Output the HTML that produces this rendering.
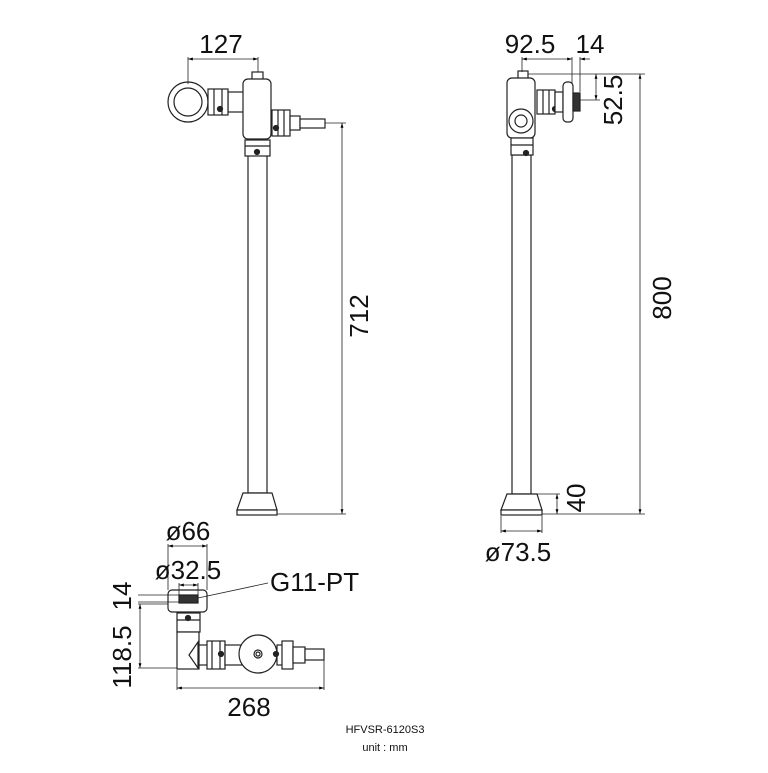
<!DOCTYPE html>
<html><head><meta charset="utf-8"><style>html,body{margin:0;padding:0;background:#fff}</style></head>
<body>
<svg width="768" height="768" viewBox="0 0 768 768" xmlns="http://www.w3.org/2000/svg" font-family="Liberation Sans, DejaVu Sans, sans-serif">
<defs>
<marker id="a" viewBox="0 0 10 10" refX="10" refY="5" markerWidth="6" markerHeight="6" orient="auto-start-reverse"><path d="M0,2 L10,5 L0,8 z" fill="#000"/></marker>
</defs>
<g fill="#fff" stroke="#222" stroke-width="1.2">
<rect x="248" y="155" width="19" height="338"/>
<path d="M243,493 L272,493 L277,510 L237,510 Z"/>
<rect x="237" y="510" width="40" height="5"/>
<circle cx="188" cy="102" r="20"/><circle cx="188" cy="102" r="14"/>
<rect x="228" y="92" width="18" height="20"/>
<rect x="208" y="89" width="20" height="26"/>
<line x1="214" y1="89" x2="214" y2="115"/><line x1="222" y1="89" x2="222" y2="115"/>
<circle cx="220" cy="109" r="2.5" fill="#222"/>
<rect x="252" y="72" width="11" height="9"/>
<rect x="243" y="79" width="28" height="60" rx="5"/>
<rect x="272" y="110" width="18" height="26"/>
<line x1="278" y1="110" x2="278" y2="136"/><line x1="284" y1="110" x2="284" y2="136"/>
<circle cx="276" cy="128" r="2.5" fill="#222"/>
<rect x="290" y="116" width="10" height="14"/>
<rect x="300" y="119" width="25" height="9"/>
<rect x="245" y="140" width="25" height="16"/>
<line x1="245" y1="146" x2="270" y2="146"/>
<circle cx="257" cy="152" r="2.5" fill="#222"/>
<rect x="512" y="155" width="19" height="339"/>
<path d="M507,494 L537,494 L542,510 L501,510 Z"/>
<rect x="501" y="510" width="41" height="5"/>
<rect x="518" y="71" width="10" height="8"/>
<rect x="507" y="78" width="28" height="60" rx="5"/>
<circle cx="521" cy="121" r="12"/><circle cx="521" cy="121" r="6"/>
<rect x="537" y="90" width="18" height="24"/>
<line x1="543" y1="90" x2="543" y2="114"/><line x1="549" y1="90" x2="549" y2="114"/>
<circle cx="555" cy="109" r="2.5" fill="#222"/>
<rect x="555" y="92" width="8" height="20"/>
<rect x="563" y="82" width="10" height="40" rx="4"/>
<rect x="573" y="93" width="7" height="18" fill="#333"/>
<rect x="511" y="138" width="22" height="17"/>
<line x1="511" y1="145" x2="533" y2="145"/>
<circle cx="526" cy="153" r="2.5" fill="#222"/>
<rect x="168" y="590" width="39" height="22" rx="4"/>
<rect x="179" y="595" width="19" height="8" fill="#333"/>
<rect x="177" y="613" width="23" height="19"/>
<line x1="177" y1="620" x2="200" y2="620"/>
<circle cx="188" cy="618" r="2.5" fill="#222"/>
<rect x="177" y="632" width="22" height="37"/>
<path d="M189,655 L198,642 L198,668 Z"/>
<rect x="199" y="645" width="10" height="20"/>
<rect x="207" y="641" width="18" height="28"/>
<line x1="212" y1="641" x2="212" y2="669"/><line x1="220" y1="641" x2="220" y2="669"/>
<circle cx="221" cy="654" r="2.5" fill="#222"/>
<rect x="225" y="645" width="18" height="20"/>
<circle cx="258" cy="654" r="19"/>
<circle cx="258" cy="654" r="4"/><circle cx="258" cy="654" r="2"/>
<rect x="277" y="645" width="6" height="20"/>
<rect x="282" y="641" width="11" height="28"/>
<circle cx="276" cy="654" r="2.5" fill="#222"/>
<rect x="293" y="647" width="12" height="16"/>
<rect x="305" y="649" width="19" height="11"/>
</g>
<g stroke="#222" stroke-width="0.8" fill="none">
<line x1="188" y1="59" x2="258" y2="59" marker-start="url(#a)" marker-end="url(#a)"/>
<line x1="188" y1="57" x2="188" y2="84"/><line x1="258" y1="57" x2="258" y2="72"/>
<line x1="325" y1="123" x2="346" y2="123"/><line x1="277" y1="514" x2="346" y2="514"/>
<line x1="342" y1="123" x2="342" y2="514" marker-start="url(#a)" marker-end="url(#a)"/>
<line x1="522" y1="59" x2="572" y2="59" marker-start="url(#a)" marker-end="url(#a)"/>
<line x1="522" y1="57" x2="522" y2="72"/><line x1="572" y1="57" x2="572" y2="84"/><line x1="580" y1="57" x2="580" y2="92"/>
<line x1="590" y1="59" x2="580" y2="59" marker-end="url(#a)"/>
<line x1="528" y1="74" x2="645" y2="74"/><line x1="580" y1="100" x2="600" y2="100"/>
<line x1="596" y1="74" x2="596" y2="100" marker-start="url(#a)" marker-end="url(#a)"/>
<line x1="640" y1="74" x2="640" y2="514" marker-start="url(#a)" marker-end="url(#a)"/>
<line x1="542" y1="514" x2="645" y2="514"/><line x1="537" y1="494" x2="560" y2="494"/>
<line x1="557" y1="494" x2="557" y2="514" marker-start="url(#a)" marker-end="url(#a)"/>
<line x1="501" y1="516" x2="501" y2="533"/><line x1="542" y1="516" x2="542" y2="533"/>
<line x1="501" y1="531" x2="542" y2="531" marker-start="url(#a)" marker-end="url(#a)"/>
<line x1="168" y1="546" x2="207" y2="546" marker-start="url(#a)" marker-end="url(#a)"/>
<line x1="168" y1="544" x2="168" y2="590"/><line x1="207" y1="544" x2="207" y2="590"/>
<line x1="179" y1="585" x2="198" y2="585" marker-start="url(#a)" marker-end="url(#a)"/>
<line x1="179" y1="583" x2="179" y2="595"/><line x1="198" y1="583" x2="198" y2="595"/>
<line x1="198" y1="598" x2="268" y2="583"/>
<line x1="138" y1="595" x2="179" y2="595"/><line x1="138" y1="602" x2="179" y2="602"/>
<line x1="138" y1="604" x2="168" y2="604"/><line x1="138" y1="668" x2="177" y2="668"/>
<line x1="140" y1="604" x2="140" y2="668" marker-start="url(#a)" marker-end="url(#a)"/>
<line x1="177" y1="670" x2="177" y2="690"/><line x1="324" y1="660" x2="324" y2="690"/>
<line x1="177" y1="688" x2="324" y2="688" marker-start="url(#a)" marker-end="url(#a)"/>
</g>
<g fill="#111" font-size="26">
<text x="221" y="53" text-anchor="middle">127</text>
<text transform="translate(368,316) rotate(-90)" text-anchor="middle">712</text>
<text x="530" y="53" text-anchor="middle">92.5</text>
<text x="590" y="53" text-anchor="middle">14</text>
<text transform="translate(622,100) rotate(-90)" text-anchor="middle">52.5</text>
<text transform="translate(671,298) rotate(-90)" text-anchor="middle">800</text>
<text transform="translate(585,498) rotate(-90)" text-anchor="middle">40</text>
<text x="518" y="561" text-anchor="middle">ø73.5</text>
<text x="188" y="540" text-anchor="middle">ø66</text>
<text x="188" y="579" text-anchor="middle">ø32.5</text>
<text x="270" y="591">G11-PT</text>
<text transform="translate(131,596) rotate(-90)" text-anchor="middle">14</text>
<text transform="translate(131,657) rotate(-90)" text-anchor="middle">118.5</text>
<text x="249" y="716" text-anchor="middle">268</text>
</g>
<text x="385" y="733" text-anchor="middle" font-size="11" fill="#111">HFVSR-6120S3</text>
<text x="385" y="751" text-anchor="middle" font-size="11" fill="#111">unit : mm</text>
</svg>
</body></html>
